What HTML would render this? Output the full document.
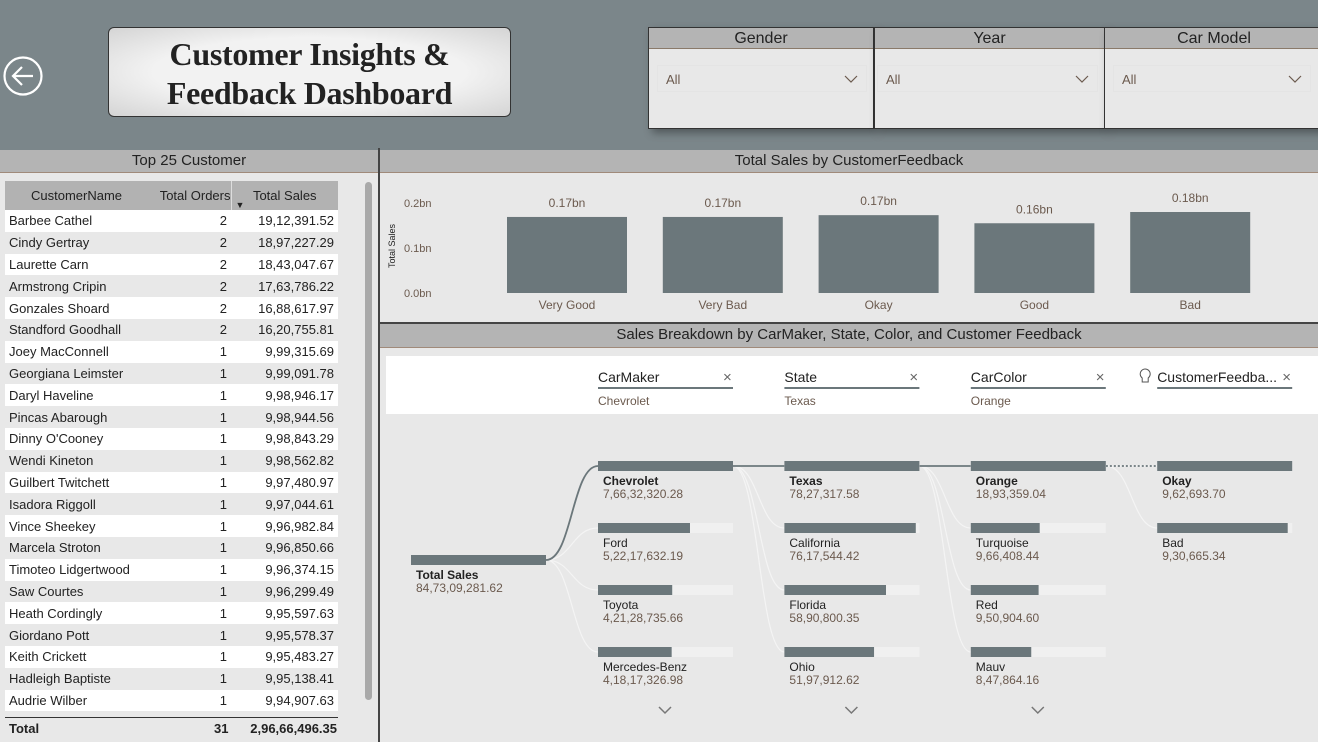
<!DOCTYPE html>
<html><head><meta charset="utf-8">
<style>
*{margin:0;padding:0;box-sizing:border-box}
body{width:1318px;height:742px;overflow:hidden;background:#7b868a;font-family:"Liberation Sans",sans-serif;position:relative}
.abs{position:absolute}
.band{position:absolute;background:#b4b4b4;border-bottom:1px solid #a08a7a;color:#222;font-size:15px;text-align:center;line-height:22px}
.slicer{position:absolute;top:27px;height:102px;background:#e8e8e8;border:1px solid #333;box-shadow:4px 4px 8px rgba(0,0,0,.35)}
.slicer .h{height:21px;background:#b4b4b4;border-bottom:1px solid #8a7a6a;text-align:center;font-size:16px;line-height:21px;color:#222}
.slicer .dd{position:absolute;left:8px;right:6px;top:37px;height:27px;border:1px solid #e4e4e4;font-size:13px;color:#6b5a4e;line-height:27px;padding-left:8px}
.slicer .dd svg{position:absolute;right:8px;top:9px}
table{border-collapse:collapse;font-size:13px;color:#222}
td{height:21.8px;padding:0 4px;white-space:nowrap}
</style></head><body>
<svg class="abs" style="left:3px;top:56px" width="42" height="42"><circle cx="20" cy="20" r="18.5" fill="none" stroke="#fff" stroke-width="2.2"/><path d="M30 20H11M19 11l-9 9 9 9" fill="none" stroke="#fff" stroke-width="2.2"/></svg>
<div class="abs" style="left:108px;top:27px;width:403px;height:90px;border:1px solid #333;border-radius:6px;background:radial-gradient(ellipse at center,#f2f2f2 55%,#d4d4d4 100%);text-align:center;font-family:'Liberation Serif',serif;font-weight:bold;font-size:32px;letter-spacing:-0.3px;line-height:39px;color:#222;padding-top:7px">Customer Insights &amp;<br>Feedback Dashboard</div>
<div class="slicer" style="left:648px;width:226px"><div class="h">Gender</div><div class="dd">All<svg width="14" height="8"><path d="M1 1l6 6 6-6" fill="none" stroke="#6b5a4e" stroke-width="1.2"/></svg></div></div>
<div class="slicer" style="left:874px;width:231px"><div class="h">Year</div><div class="dd" style="left:2px">All<svg width="14" height="8"><path d="M1 1l6 6 6-6" fill="none" stroke="#6b5a4e" stroke-width="1.2"/></svg></div></div>
<div class="slicer" style="left:1104px;width:220px"><div class="h">Car Model</div><div class="dd" style="right:12px">All<svg width="14" height="8"><path d="M1 1l6 6 6-6" fill="none" stroke="#6b5a4e" stroke-width="1.2"/></svg></div></div>

<div class="abs" style="left:0;top:150px;width:378px;height:592px;background:#e8e8e8"></div>
<div class="band" style="left:0;top:150px;width:378px;height:23px">Top 25 Customer</div>
<div class="abs" style="left:378px;top:148px;width:2px;height:594px;background:#444"></div>
<div class="abs" style="left:365px;top:182px;width:7px;height:518px;background:#a9a9a9;border-radius:4px"></div>
<table class="abs" style="left:5px;top:181px;width:333px">
<thead><tr style="background:#b2b2b2;height:29px"><th style="font-weight:normal;text-align:center;width:143px">CustomerName</th><th style="font-weight:normal;text-align:right;width:83px;border-right:1px solid #ddd">Total Orders</th><th style="font-weight:normal;text-align:center;position:relative">Total Sales<span style="position:absolute;left:4px;bottom:0;font-size:9px">&#9660;</span></th></tr></thead>
<tbody id="tb"></tbody>
</table>
<div class="abs" style="left:5px;top:717px;width:333px;border-top:1px solid #333"></div>
<div class="abs" style="left:9px;top:721px;width:328px;font-size:13px;font-weight:bold;color:#222">Total<span style="position:absolute;left:205px">31</span><span style="position:absolute;right:0">2,96,66,496.35</span></div>

<div class="abs" style="left:380px;top:150px;width:938px;height:172px;background:#e8e8e8"></div>
<div class="band" style="left:380px;top:150px;width:938px;height:23px">Total Sales by CustomerFeedback</div>
<svg class="abs" id="bars" style="left:380px;top:173px" width="938" height="150"></svg>
<div class="abs" style="left:380px;top:322px;width:938px;height:2px;background:#444"></div>

<div class="abs" style="left:380px;top:324px;width:938px;height:418px;background:#e8e8e8"></div>
<div class="band" style="left:380px;top:324px;width:938px;height:24px">Sales Breakdown by CarMaker, State, Color, and Customer Feedback</div>
<div class="abs" style="left:386px;top:356px;width:932px;height:58px;background:#fff"></div>
<svg class="abs" id="tree" style="left:380px;top:348px" width="938" height="394"></svg>

<script>
const names=["Barbee Cathel","Cindy Gertray","Laurette Carn","Armstrong Cripin","Gonzales Shoard","Standford Goodhall","Joey MacConnell","Georgiana Leimster","Daryl Haveline","Pincas Abarough","Dinny O'Cooney","Wendi Kineton","Guilbert Twitchett","Isadora Riggoll","Vince Sheekey","Marcela Stroton","Timoteo Lidgertwood","Saw Courtes","Heath Cordingly","Giordano Pott","Keith Crickett","Hadleigh Baptiste","Audrie Wilber"];
const orders=[2,2,2,2,2,2,1,1,1,1,1,1,1,1,1,1,1,1,1,1,1,1,1];
const sales=["19,12,391.52","18,97,227.29","18,43,047.67","17,63,786.22","16,88,617.97","16,20,755.81","9,99,315.69","9,99,091.78","9,98,946.17","9,98,944.56","9,98,843.29","9,98,562.82","9,97,480.97","9,97,044.61","9,96,982.84","9,96,850.66","9,96,374.15","9,96,299.49","9,95,597.63","9,95,578.37","9,95,483.27","9,95,138.41","9,94,907.63"];
const tb=document.getElementById('tb');
names.forEach((n,i)=>{const tr=document.createElement('tr');


tr.style.background=i%2?'#e8e8e8':'#fff';
tr.innerHTML=`<td>${n}</td><td style="text-align:right">${orders[i]}</td><td style="text-align:right">${sales[i]}</td>`;tb.appendChild(tr);});

const fbCats=["Very Good","Very Bad","Okay","Good","Bad"];
const fbVals=[0.169,0.169,0.173,0.155,0.18];
const fbLabels=["0.17bn","0.17bn","0.17bn","0.16bn","0.18bn"];
const yTicks=[0,0.1,0.2];
const yTickLabels=["0.0bn","0.1bn","0.2bn"];
const NS='http://www.w3.org/2000/svg';
function mk(p,t,a,txt){const e=document.createElementNS(NS,t);for(const k in a)e.setAttribute(k,a[k]);if(txt!=null)e.textContent=txt;p.appendChild(e);return e;}
const bs=document.getElementById('bars');
const y0=120,ys=v=>y0-v*450;
const xb=i=>127+i*155.8;
yTicks.forEach((t,i)=>{const e=mk(bs,'text',{x:24,y:ys(t)+4,'font-size':11,fill:'#6b5a4e','font-family':'Liberation Sans'},yTickLabels[i]);

});
const yt=mk(bs,'text',{x:0,y:0,transform:'translate(15,95) rotate(-90)','font-size':9,fill:'#222','font-family':'Liberation Sans'},'Total Sales');


fbCats.forEach((c,i)=>{
const r=mk(bs,'rect',{x:xb(i),y:ys(fbVals[i]),width:120,height:y0-ys(fbVals[i]),fill:'#6b777b'});


const l=mk(bs,'text',{x:xb(i)+60,y:ys(fbVals[i])-10,'text-anchor':'middle','font-size':12,fill:'#6b5a4e','font-family':'Liberation Sans'},fbLabels[i]);


const x=mk(bs,'text',{x:xb(i)+60,y:136,'text-anchor':'middle','font-size':12,fill:'#6b5a4e','font-family':'Liberation Sans'},c);


});

const levelTitles=["CarMaker","State","CarColor","CustomerFeedba..."];
const levelSel=["Chevrolet","Texas","Orange",""];
const lvlNames=[["Chevrolet","Ford","Toyota","Mercedes-Benz"],["Texas","California","Florida","Ohio"],["Orange","Turquoise","Red","Mauv"],["Okay","Bad"]];
const lvlVals=[[76632320.28,52217632.19,42128735.66,41817326.98],[7827317.58,7617544.42,5890800.35,5197912.62],[1893359.04,966408.44,950904.60,847864.16],[962693.70,930665.34]];
const lvlLabels=[["7,66,32,320.28","5,22,17,632.19","4,21,28,735.66","4,18,17,326.98"],["78,27,317.58","76,17,544.42","58,90,800.35","51,97,912.62"],["18,93,359.04","9,66,408.44","9,50,904.60","8,47,864.16"],["9,62,693.70","9,30,665.34"]];
const rootLabel="84,73,09,281.62";
const tr=document.getElementById('tree');
const colX=i=>218+i*186.4, rowY=j=>113+j*62, W=135;
const F='Liberation Sans';
levelTitles.forEach((t,i)=>{const x=colX(i);
if(i==3){mk(tr,'path',{d:`M${x-15} 30a5 5 0 1 1 6 0v4h-6z`,fill:'none',stroke:'#555','stroke-width':1});}
const e=mk(tr,'text',{x:x,y:34,'font-size':14,fill:'#222','font-family':F},t);


mk(tr,'line',{x1:x,x2:x+W,y1:40,y2:40,stroke:'#6b777b','stroke-width':2});
const cl=mk(tr,'text',{x:x+W-10,y:34,'font-size':15,fill:'#666','font-family':F},'×');


if(levelSel[i])mk(tr,'text',{x:x,y:57,'font-size':12,fill:'#6b5a4e','font-family':F},levelSel[i]);
});
const rx=31,ry=207;
const rb=mk(tr,'rect',{x:rx,y:ry,width:W,height:10,fill:'#6b777b'});


mk(tr,'text',{x:rx+5,y:ry+24,'font-size':12,'font-weight':'bold',fill:'#222','font-family':F},'Total Sales');
mk(tr,'text',{x:rx+5,y:ry+37,'font-size':12,fill:'#6b5a4e','font-family':F},rootLabel);
function curve(x1,y1,x2,y2,sel,dot){const mx=(x1+x2)/2;
mk(tr,'path',{d:`M${x1} ${y1}C${mx} ${y1} ${mx} ${y2} ${x2} ${y2}`,fill:'none',stroke:sel?'#6b777b':'#f4f4f4','stroke-width':sel?1.8:1.2,'stroke-dasharray':dot?'2 2':'none'});}
let px=rx+W,py=ry+5;
lvlNames.forEach((ns,i)=>{const x=colX(i),mx=Math.max(...lvlVals[i]);
ns.forEach((n,j)=>{curve(px,py,x,rowY(j)+5,false,false);});
curve(px,py,x,rowY(0)+5,true,i==3);
ns.forEach((n,j)=>{const y=rowY(j);
mk(tr,'rect',{x:x,y:y,width:W,height:10,fill:'#f0f0f0'});
const b=mk(tr,'rect',{x:x,y:y,width:W*lvlVals[i][j]/mx,height:10,fill:'#6b777b'});


mk(tr,'text',{x:x+5,y:y+24,'font-size':12,'font-weight':j==0?'bold':'normal',fill:'#222','font-family':F},n);
mk(tr,'text',{x:x+5,y:y+37,'font-size':12,fill:'#6b5a4e','font-family':F},lvlLabels[i][j]);
});
if(ns.length>2){const c=mk(tr,'path',{d:`M${x+61} 359l6 6 6-6`,fill:'none',stroke:'#777','stroke-width':1.5});

}
px=x+W;py=rowY(0)+5;
});
</script>
</body></html>
